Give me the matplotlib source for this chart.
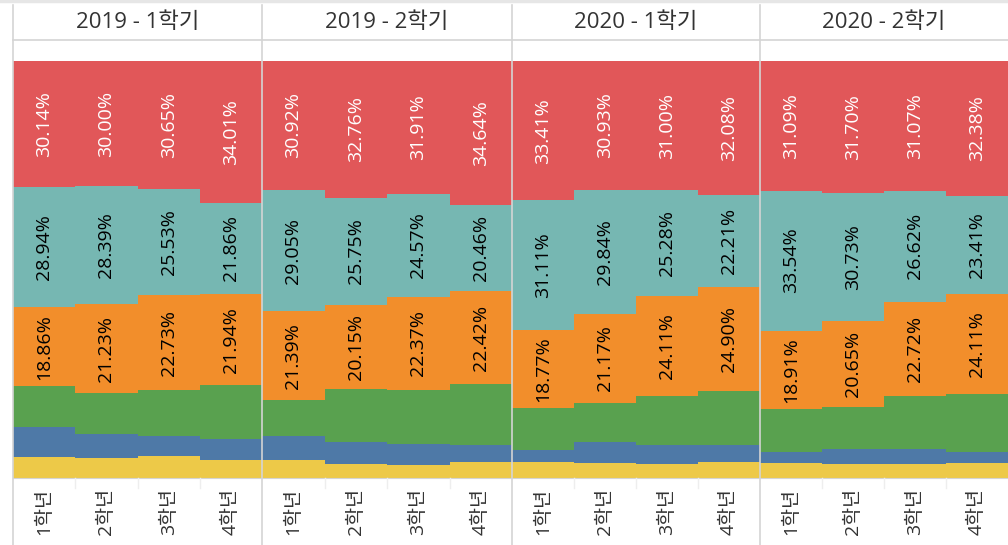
import matplotlib
matplotlib.use("Agg")
import matplotlib.pyplot as plt
from matplotlib.lines import Line2D

plt.rcParams['font.family'] = ['Open Sans', 'Noto Sans CJK KR', 'DejaVu Sans']

panels = ['2019 - 1학기', '2019 - 2학기', '2020 - 1학기', '2020 - 2학기']
grades = ['1학년', '2학년', '3학년', '4학년']

# stacked from bottom to top
yellow = [[5.1, 4.7, 5.2, 4.2], [4.2, 3.4, 3.0, 3.9], [3.9, 3.6, 3.4, 3.8], [3.6, 3.4, 3.4, 3.6]]
blue = [[7.1, 5.9, 4.9, 5.2], [5.9, 5.3, 5.1, 4.1], [2.7, 5.0, 4.6, 4.1], [2.7, 3.6, 3.6, 2.7]]
green = [[9.86, 9.78, 11.0, 12.79], [8.54, 12.64, 13.05, 14.48], [10.11, 9.46, 11.61, 12.91], [10.16, 9.92, 12.59, 13.8]]
orange = [[18.86, 21.23, 22.73, 21.94], [21.39, 20.15, 22.37, 22.42], [18.77, 21.17, 24.11, 24.90], [18.91, 20.65, 22.72, 24.11]]
teal = [[28.94, 28.39, 25.53, 21.86], [29.05, 25.75, 24.57, 20.46], [31.11, 29.84, 25.28, 22.21], [33.54, 30.73, 26.62, 23.41]]
red = [[30.14, 30.00, 30.65, 34.01], [30.92, 32.76, 31.91, 34.64], [33.41, 30.93, 31.00, 32.08], [31.09, 31.70, 31.07, 32.38]]

series = [
    (yellow, '#EDC948', None),
    (blue, '#4E79A7', None),
    (green, '#59A14F', None),
    (orange, '#F28E2B', 'black'),
    (teal, '#76B7B2', 'black'),
    (red, '#E15759', 'white'),
]

W, H = 1008, 545
fig = plt.figure(figsize=(W / 100, H / 100), dpi=100)

edges = [13, 262, 512, 760, 1008]
plot_top, plot_bot, head_line = 41, 478, 40
grid_c = '#d4d4d4'

for p in range(4):
    x0, x1 = edges[p], edges[p + 1]
    ax = fig.add_axes([x0 / W, (H - plot_bot) / H, (x1 - x0) / W, (plot_bot - plot_top) / H])
    xs = range(4)
    bottom = [0, 0, 0, 0]
    for vals, color, tc in series:
        v = vals[p]
        ax.bar(xs, v, bottom=bottom, width=1.0, color=color, linewidth=0)
        if tc:
            for i in xs:
                ax.text(i, bottom[i] + v[i] / 2, f'{v[i]:.2f}%', rotation=90,
                        ha='center', va='center', color=tc, fontsize=14)
        bottom = [b + h for b, h in zip(bottom, v)]
    ax.set_xlim(-0.5, 3.5)
    ax.set_ylim(0, 104.8)
    ax.set_yticks([])
    ax.set_xticks(list(xs))
    ax.set_xticklabels(grades, rotation=90, fontsize=14, color='#333333')
    ax.tick_params(axis='x', length=0, pad=7)
    for s in ax.spines.values():
        s.set_visible(False)
    ax.spines['bottom'].set_visible(True)
    ax.spines['bottom'].set_color(grid_c)
    fig.text((x0 + x1) / 2 / W, 1 - 22 / H, panels[p], ha='center', va='center',
             fontsize=16, color='#333333')
    # faint separators between grade labels
    for k in range(1, 4):
        xx = x0 + (x1 - x0) * k / 4
        fig.add_artist(Line2D([xx / W, xx / W], [1 - plot_bot / H, 1 - 488 / H],
                              color='#eeeeee', lw=1))

# panel borders
for xx in edges[:-1]:
    fig.add_artist(Line2D([xx / W, xx / W], [0, 1 - 5 / H], color=grid_c, lw=1.2))
fig.add_artist(Line2D([13 / W, 1], [1 - head_line / H, 1 - head_line / H], color=grid_c, lw=1.2))
fig.add_artist(Line2D([0, 1], [1 - 1 / H, 1 - 1 / H], color='#e6e6e6', lw=2.5))

fig.savefig('out.png', dpi=100)
